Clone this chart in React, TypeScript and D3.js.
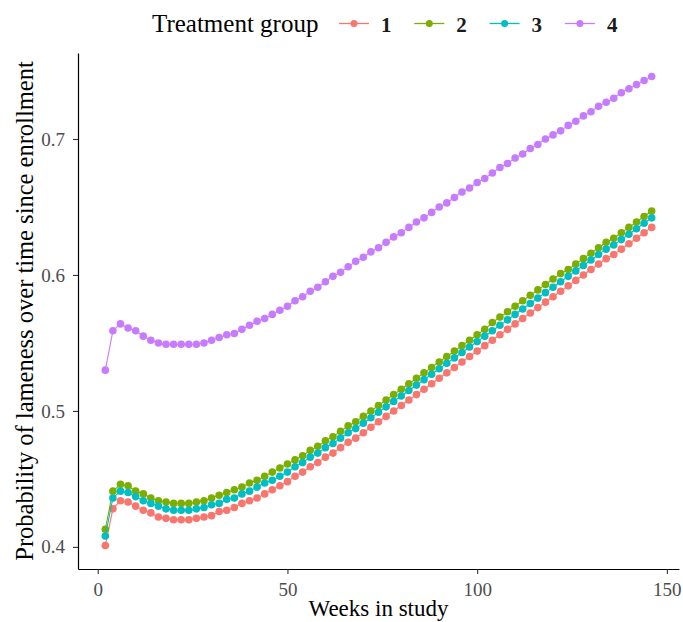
import * as d3 from 'd3';
import { useEffect, useRef } from 'react';

const weeks = [
  2, 4, 6, 8, 10, 12, 14, 16, 18, 20, 22, 24, 26, 28, 30, 32, 34, 36, 38, 40, 42, 44, 46, 48, 50,
  52, 54, 56, 58, 60, 62, 64, 66, 68, 70, 72, 74, 76, 78, 80, 82, 84, 86, 88, 90, 92, 94, 96, 98, 100,
  102, 104, 106, 108, 110, 112, 114, 116, 118, 120, 122, 124, 126, 128, 130, 132, 134, 136, 138, 140,
  142, 144, 146,
];

const group1 = [
  0.401, 0.428, 0.434, 0.433, 0.43, 0.427, 0.425, 0.422, 0.421, 0.42, 0.42, 0.42, 0.421, 0.422, 0.423,
  0.426, 0.427, 0.429, 0.432, 0.434, 0.436, 0.439, 0.442, 0.445, 0.448, 0.452, 0.455, 0.459, 0.462,
  0.466, 0.469, 0.473, 0.477, 0.48, 0.484, 0.488, 0.492, 0.496, 0.5, 0.504, 0.508, 0.512, 0.516, 0.52,
  0.524, 0.528, 0.532, 0.536, 0.54, 0.544, 0.548, 0.552, 0.556, 0.56, 0.564, 0.568, 0.572, 0.576, 0.58,
  0.584, 0.588, 0.592, 0.596, 0.6, 0.604, 0.608, 0.612, 0.615, 0.619, 0.623, 0.627, 0.631, 0.635,
];
const group2 = [
  0.413, 0.441, 0.446, 0.445, 0.441, 0.439, 0.436, 0.434, 0.433, 0.432, 0.432, 0.432, 0.433, 0.434,
  0.436, 0.438, 0.44, 0.442, 0.444, 0.447, 0.449, 0.452, 0.455, 0.458, 0.461, 0.464, 0.467, 0.471,
  0.474, 0.478, 0.481, 0.485, 0.489, 0.492, 0.496, 0.5, 0.504, 0.508, 0.512, 0.516, 0.52, 0.524, 0.528,
  0.532, 0.536, 0.54, 0.544, 0.548, 0.552, 0.556, 0.56, 0.565, 0.569, 0.573, 0.577, 0.581, 0.585, 0.589,
  0.593, 0.597, 0.601, 0.604, 0.608, 0.612, 0.616, 0.62, 0.624, 0.627, 0.631, 0.635, 0.639, 0.643, 0.647,
];
const group3 = [
  0.408, 0.436, 0.441, 0.44, 0.437, 0.434, 0.432, 0.43, 0.428, 0.427, 0.427, 0.427, 0.428, 0.429, 0.431,
  0.432, 0.435, 0.436, 0.439, 0.441, 0.444, 0.447, 0.449, 0.452, 0.455, 0.459, 0.462, 0.466, 0.469,
  0.473, 0.476, 0.48, 0.484, 0.487, 0.491, 0.495, 0.499, 0.503, 0.507, 0.511, 0.515, 0.519, 0.523,
  0.527, 0.531, 0.535, 0.539, 0.543, 0.547, 0.551, 0.555, 0.559, 0.563, 0.567, 0.571, 0.575, 0.579,
  0.583, 0.587, 0.591, 0.595, 0.599, 0.603, 0.607, 0.611, 0.615, 0.619, 0.622, 0.626, 0.63, 0.634,
  0.638, 0.642,
];
const group4 = [
  0.53, 0.559, 0.564, 0.561, 0.559, 0.555, 0.552, 0.55, 0.549, 0.549, 0.549, 0.549, 0.549, 0.55, 0.552,
  0.554, 0.556, 0.557, 0.56, 0.563, 0.566, 0.568, 0.571, 0.574, 0.577, 0.581, 0.584, 0.588, 0.591,
  0.595, 0.599, 0.602, 0.606, 0.61, 0.613, 0.617, 0.62, 0.624, 0.628, 0.631, 0.635, 0.639, 0.642,
  0.646, 0.65, 0.653, 0.657, 0.661, 0.664, 0.668, 0.671, 0.675, 0.679, 0.682, 0.686, 0.689, 0.693,
  0.696, 0.7, 0.703, 0.706, 0.71, 0.713, 0.717, 0.72, 0.724, 0.727, 0.73, 0.734, 0.737, 0.74, 0.743,
  0.746,
];

const groupNames = ['1', '2', '3', '4'];
const groupColors = ['#F8766D', '#7CAE00', '#00BFC4', '#C77CFF'];
const xTicks = [0, 50, 100, 150];
const yTicks = [0.4, 0.5, 0.6, 0.7];

const W = 683;
const H = 622;
const margin = { left: 78, right: 4, top: 53, bottom: 53 };
const serif = '"Liberation Serif", "Times New Roman", serif';

function App() {
  const svgRef = useRef(null);

  useEffect(() => {
    const svg = d3.select(svgRef.current);
    svg.selectAll('*').remove();

    const series = [group1, group2, group3, group4];

    // ggplot-style 5% expansion of the data range
    const [x0, x1] = d3.extent(weeks);
    const xPad = (x1 - x0) * 0.05;
    const allY = series.flat();
    const [y0, y1] = d3.extent(allY);
    const yPad = (y1 - y0) * 0.05;

    const x = d3
      .scaleLinear()
      .domain([x0 - xPad, x1 + xPad])
      .range([margin.left, W - margin.right]);
    const y = d3
      .scaleLinear()
      .domain([y0 - yPad, y1 + yPad])
      .range([H - margin.bottom, margin.top]);

    const line = d3
      .line()
      .x((d) => x(d[0]))
      .y((d) => y(d[1]));

    series.forEach((vals, gi) => {
      const pts = weeks.map((w, i) => [w, vals[i]]);
      const g = svg.append('g');
      g.append('path')
        .attr('d', line(pts))
        .attr('fill', 'none')
        .attr('stroke', groupColors[gi])
        .attr('stroke-width', 1.1);
      g.selectAll('circle')
        .data(pts)
        .join('circle')
        .attr('cx', (d) => x(d[0]))
        .attr('cy', (d) => y(d[1]))
        .attr('r', 3.8)
        .attr('fill', groupColors[gi]);
    });

    const xAxis = d3.axisBottom(x).tickValues(xTicks).tickSize(5).tickSizeOuter(0).tickPadding(9);
    const yAxis = d3
      .axisLeft(y)
      .tickValues(yTicks)
      .tickSize(5)
      .tickSizeOuter(0)
      .tickPadding(8)
      .tickFormat(d3.format('.1f'));

    const xg = svg
      .append('g')
      .attr('transform', `translate(0,${H - margin.bottom})`)
      .call(xAxis);
    const yg = svg.append('g').attr('transform', `translate(${margin.left},0)`).call(yAxis);

    [xg, yg].forEach((g) => {
      g.select('.domain').attr('stroke', '#000').attr('stroke-width', 1.2);
      g.selectAll('.tick line').attr('stroke', '#333').attr('stroke-width', 1.1);
      g.selectAll('.tick text')
        .attr('fill', '#4d4d4d')
        .style('font-family', serif)
        .style('font-size', '19px');
    });

    // axis titles
    svg
      .append('text')
      .attr('x', (margin.left + W - margin.right) / 2)
      .attr('y', 616)
      .attr('text-anchor', 'middle')
      .style('font-family', serif)
      .style('font-size', '23px')
      .attr('fill', '#000')
      .text('Weeks in study');

    svg
      .append('text')
      .attr('transform', `translate(33,${(margin.top + H - margin.bottom) / 2}) rotate(-90)`)
      .attr('text-anchor', 'middle')
      .style('font-family', serif)
      .style('font-size', '24.5px')
      .attr('fill', '#000')
      .text('Probability of lameness over time since enrollment');

    // legend on top
    const legend = svg.append('g');
    legend
      .append('text')
      .attr('x', 152)
      .attr('y', 32)
      .style('font-family', serif)
      .style('font-size', '25px')
      .attr('fill', '#000')
      .text('Treatment group');

    groupNames.forEach((name, i) => {
      const kx = 339 + i * 75.3;
      legend
        .append('line')
        .attr('x1', kx)
        .attr('x2', kx + 30)
        .attr('y1', 23.5)
        .attr('y2', 23.5)
        .attr('stroke', groupColors[i])
        .attr('stroke-width', 1.3);
      legend
        .append('circle')
        .attr('cx', kx + 15)
        .attr('cy', 23.5)
        .attr('r', 3.5)
        .attr('fill', groupColors[i]);
      legend
        .append('text')
        .attr('x', kx + 42)
        .attr('y', 32)
        .style('font-family', serif)
        .style('font-size', '21px')
        .style('font-weight', 'bold')
        .attr('fill', '#1a1a1a')
        .text(name);
    });
  }, []);

  return (
    <svg
      ref={svgRef}
      width={W}
      height={H}
      style={{ position: 'absolute', left: 0, top: 0, background: '#fff' }}
    />
  );
}

export default App;
